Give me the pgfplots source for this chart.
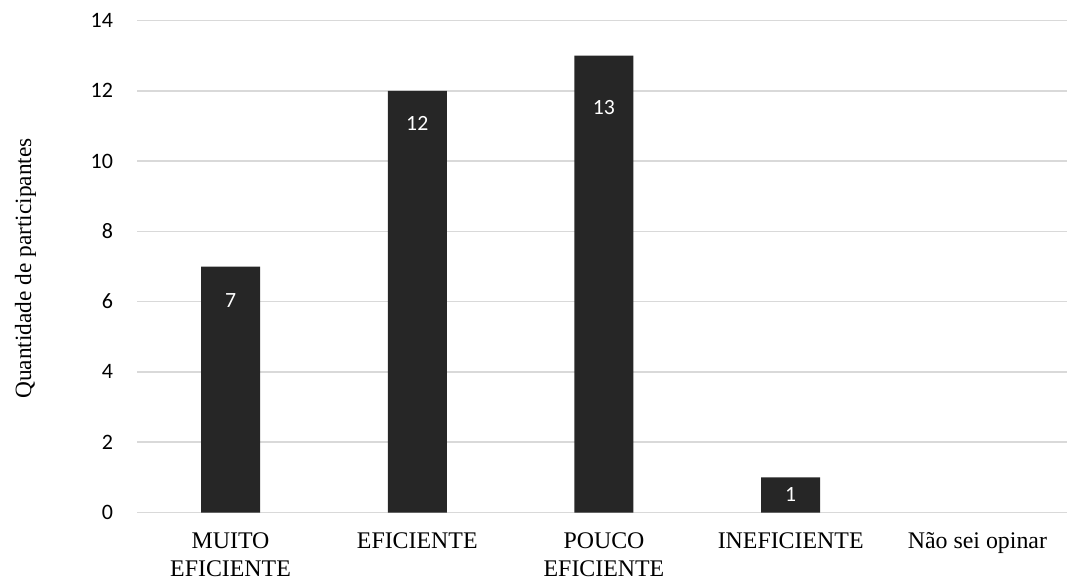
\documentclass[border=0pt]{standalone}
\usepackage{pgfplots}
\pgfplotsset{compat=1.18}
\usepackage{pgfplotstable}
\usepackage{fontspec}
\setmainfont{Liberation Serif}
\newfontfamily\carlito{Carlito}
\definecolor{barc}{HTML}{262626}
\definecolor{gridc}{HTML}{D9D9D9}

% category index, participants, downward offset of the value label (pt)
\pgfplotstableread{
x y off
0 7 25.5
1 12 24.75
2 13 39
3 1 13.1
4 0 0
}\respostas

\begin{document}
\begin{tikzpicture}
\path[use as bounding box] (-102.9pt,-52.875pt) rectangle (697.35pt,384.375pt);
\begin{axis}[
  scale only axis,
  width=697.35pt, height=369pt,
  ybar,
  xmin=-0.5, xmax=4.48,
  ymin=0, ymax=14,
  ytick={0,2,...,14},
  xtick={0,1,2,3,4},
  xticklabels={{\strut MUITO\\\strut EFICIENTE},{\strut EFICIENTE},{\strut POUCO\\\strut EFICIENTE},{\strut INEFICIENTE},{\strut Não sei opinar}},
  axis line style={draw=none},
  major tick length=0pt,
  ymajorgrids,
  major grid style={draw=gridc, line width=1.1pt},
  /pgf/number format/assume math mode=true,
  yticklabel style={font=\carlito\fontsize{16.5}{20}\selectfont, anchor=east, inner sep=0pt, xshift=-18pt},
  xticklabel style={font=\fontsize{17.9}{21}\selectfont, align=center, anchor=north, inner sep=0pt, yshift=-11.9pt},
  ylabel={Quantidade de participantes},
  ylabel style={font=\fontsize{17.5}{21}\selectfont, at={(axis description cs:-0.114,0.496)}, anchor=base, inner sep=0pt},
]
\addplot[
  fill=barc, draw=none, bar width=44.25pt,
  point meta=y,
  unbounded coords=discard,
  y filter/.expression={y==0 ? nan : y},
  visualization depends on={\thisrow{off}\as\laboff},
  nodes near coords={\pgfmathprintnumber{\pgfplotspointmeta}},
  every node near coord/.append style={anchor=center, yshift=-\laboff pt, text=white, font=\carlito\fontsize{16.3}{19}\selectfont},
] table[x=x, y=y] {\respostas};
\end{axis}
\end{tikzpicture}
\end{document}
